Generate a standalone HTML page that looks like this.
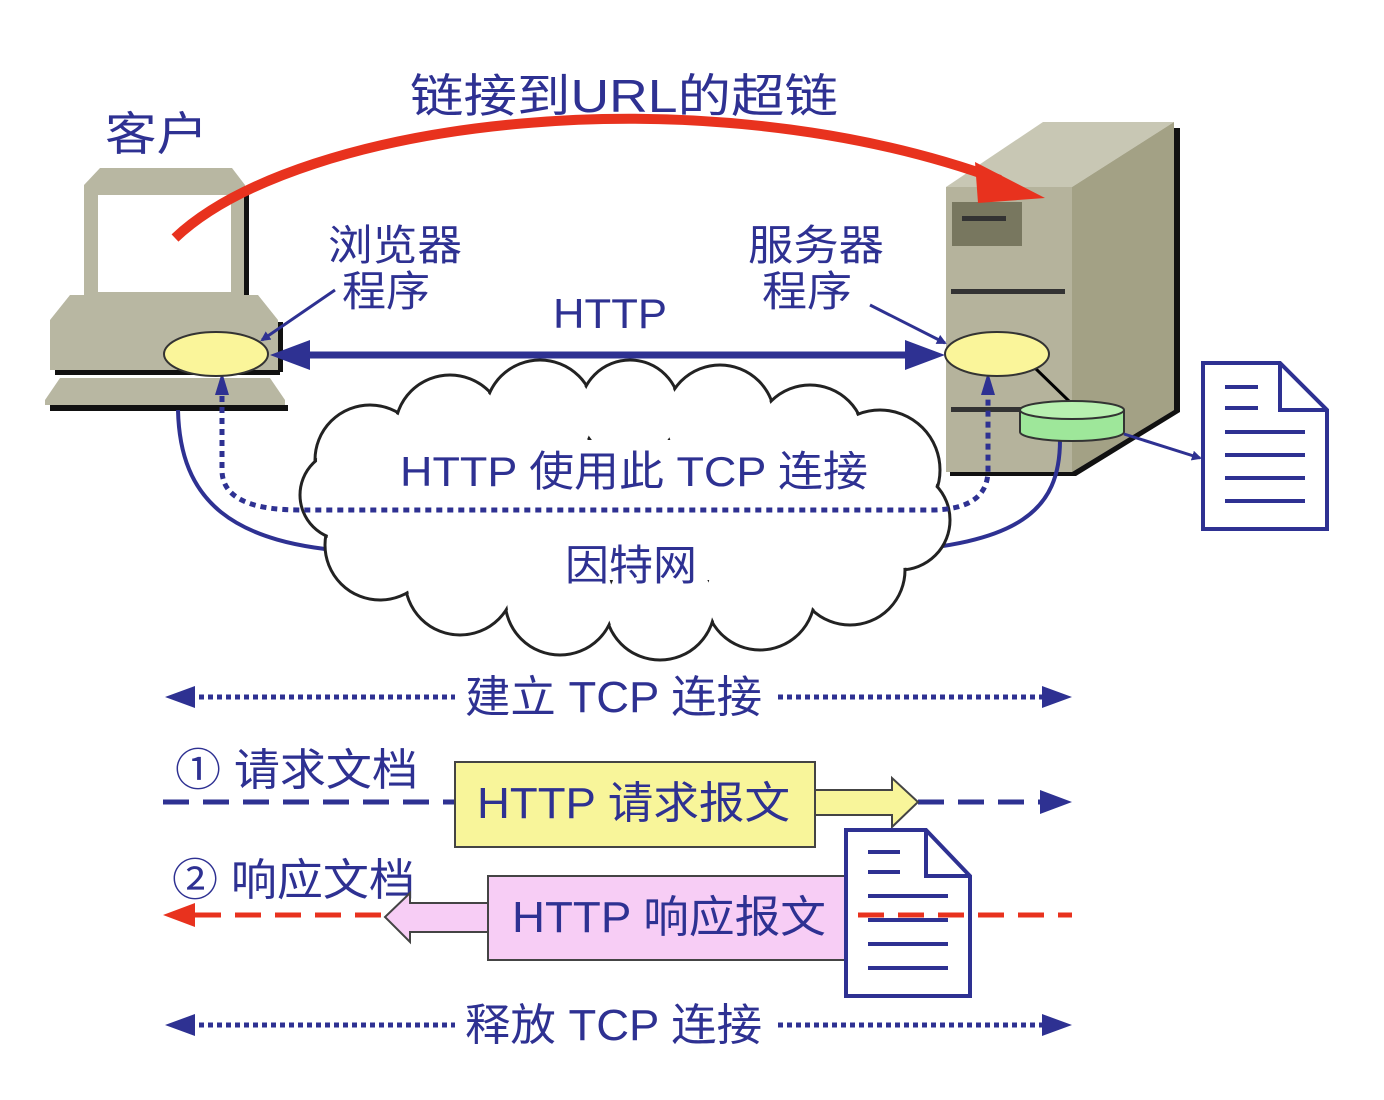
<!DOCTYPE html>
<html><head><meta charset="utf-8"><style>
html,body{margin:0;padding:0;background:#fff;width:1384px;height:1100px;overflow:hidden}
svg{display:block}
text{font-family:"Liberation Sans","Noto Sans CJK SC",sans-serif;fill:#2e3192}
</style></head><body>
<svg width="1384" height="1100" viewBox="0 0 1384 1100">
<defs>
<marker id="bh" markerWidth="10" markerHeight="10" refX="8" refY="5" orient="auto" markerUnits="userSpaceOnUse"><path d="M0,0 L10,5 L0,10z" fill="#2e3192"/></marker>
</defs>
<!-- computer -->
<polygon points="84,305 84,185 100,168 232,168 245,185 245,305" fill="#b8b7a2"/>
<rect x="244" y="188" width="5" height="115" fill="#111"/>
<rect x="98" y="195" width="133" height="97" fill="#fff"/>
<polygon points="50,320 70,295 258,295 278,320 278,370 50,370" fill="#b8b7a2"/>
<rect x="55" y="370" width="225" height="5" fill="#111"/>
<rect x="278" y="322" width="5" height="50" fill="#111"/>
<polygon points="45,400 60,378 270,378 285,400 285,405 45,405" fill="#b8b7a2"/>
<rect x="50" y="405" width="238" height="6" fill="#111"/>
<!-- server -->
<polygon points="946,187 1043,122 1174,122 1072,187" fill="#c8c7b4"/>
<polygon points="1072,187 1174,122 1174,410 1072,472" fill="#a3a185"/>
<rect x="946" y="187" width="126" height="285" fill="#b5b39c"/>
<polygon points="1174,128 1180,128 1180,412 1076,476 950,476 950,472 1072,472 1174,410" fill="#111"/>
<rect x="952" y="202" width="70" height="44" fill="#78775f"/>
<rect x="962" y="216" width="44" height="5" fill="#333"/>
<rect x="951" y="289" width="114" height="5" fill="#333"/>
<rect x="951" y="407" width="70" height="5" fill="#333"/>
<!-- red arc -->
<path d="M175,238 C300,120 700,70 1000,180" fill="none" stroke="#e8321e" stroke-width="10"/>
<polygon points="975,162 1045,198 978,203" fill="#e8321e"/>
<!-- connectors -->
<path d="M178,410 C180,500 230,545 360,552" fill="none" stroke="#2e3192" stroke-width="4"/>
<path d="M1060,440 C1060,510 1020,545 880,552" fill="none" stroke="#2e3192" stroke-width="4"/>
<line x1="1035" y1="368" x2="1070" y2="402" stroke="#000" stroke-width="3"/>
<!-- cloud -->
<g stroke="#222" stroke-width="3" fill="#fff">
<circle cx="370" cy="460" r="55"/><circle cx="450" cy="430" r="55"/><circle cx="540" cy="415" r="55"/><circle cx="630" cy="410" r="50"/><circle cx="720" cy="420" r="55"/><circle cx="810" cy="440" r="55"/><circle cx="880" cy="470" r="60"/><circle cx="900" cy="520" r="50"/><circle cx="850" cy="570" r="55"/><circle cx="760" cy="595" r="55"/><circle cx="660" cy="605" r="55"/><circle cx="560" cy="600" r="55"/><circle cx="460" cy="580" r="55"/><circle cx="380" cy="545" r="55"/><circle cx="345" cy="495" r="45"/>
</g>
<g fill="#fff">
<circle cx="370" cy="460" r="53"/><circle cx="450" cy="430" r="53"/><circle cx="540" cy="415" r="53"/><circle cx="630" cy="410" r="48"/><circle cx="720" cy="420" r="53"/><circle cx="810" cy="440" r="53"/><circle cx="880" cy="470" r="58"/><circle cx="900" cy="520" r="48"/><circle cx="850" cy="570" r="53"/><circle cx="760" cy="595" r="53"/><circle cx="660" cy="605" r="53"/><circle cx="560" cy="600" r="53"/><circle cx="460" cy="580" r="53"/><circle cx="380" cy="545" r="53"/><circle cx="345" cy="495" r="43"/>
<rect x="380" y="440" width="500" height="140"/>
</g>
<!-- dotted connection -->
<path d="M222,385 L222,470 Q222,510 300,510 L930,510 Q988,510 988,470 L988,385" fill="none" stroke="#2e3192" stroke-width="5" stroke-dasharray="6,5"/>
<polygon points="215,395 222,372 229,395" fill="#2e3192"/>
<polygon points="981,395 988,372 995,395" fill="#2e3192"/>
<!-- ellipses -->
<ellipse cx="216" cy="354" rx="52" ry="22" fill="#faf59a" stroke="#333" stroke-width="2"/>
<ellipse cx="997" cy="354" rx="52" ry="22" fill="#faf59a" stroke="#333" stroke-width="2"/>
<!-- cylinder -->
<path d="M1020,410 L1020,432 A52,9 0 0 0 1124,432 L1124,410" fill="#9ee79a" stroke="#333" stroke-width="2"/>
<ellipse cx="1072" cy="410" rx="52" ry="9" fill="#b8f0b0" stroke="#333" stroke-width="2"/>
<line x1="1124" y1="434" x2="1200" y2="458" stroke="#2e3192" stroke-width="3" marker-end="url(#bh)"/>
<!-- HTTP double arrow -->
<line x1="300" y1="355" x2="912" y2="355" stroke="#2e3192" stroke-width="7"/>
<polygon points="270,355 310,340 310,370" fill="#2e3192"/>
<polygon points="945,355 905,340 905,370" fill="#2e3192"/>
<line x1="335" y1="290" x2="262" y2="340" stroke="#2e3192" stroke-width="3" marker-end="url(#bh)"/>
<line x1="870" y1="305" x2="945" y2="343" stroke="#2e3192" stroke-width="3" marker-end="url(#bh)"/>
<!-- doc right -->
<path d="M1203,363 L1280,363 L1327,410 L1327,529 L1203,529z M1280,363 L1280,410 L1327,410" fill="#fff" stroke="#2e3192" stroke-width="4"/>
<g stroke="#2e3192" stroke-width="4"><line x1="1225" y1="387" x2="1258" y2="387"/><line x1="1225" y1="408" x2="1258" y2="408"/><line x1="1225" y1="432" x2="1305" y2="432"/><line x1="1225" y1="455" x2="1305" y2="455"/><line x1="1225" y1="478" x2="1305" y2="478"/><line x1="1225" y1="501" x2="1305" y2="501"/></g>
<!-- labels -->
<text x="105" y="150" font-size="46" textLength="103" lengthAdjust="spacingAndGlyphs">客户</text>
<text x="410" y="112" font-size="46" textLength="428" lengthAdjust="spacingAndGlyphs">链接到URL的超链</text>
<text x="328" y="260" font-size="42" textLength="134" lengthAdjust="spacingAndGlyphs">浏览器</text>
<text x="342" y="306" font-size="42" textLength="88" lengthAdjust="spacingAndGlyphs">程序</text>
<text x="748" y="260" font-size="42" textLength="136" lengthAdjust="spacingAndGlyphs">服务器</text>
<text x="762" y="306" font-size="42" textLength="90" lengthAdjust="spacingAndGlyphs">程序</text>
<text x="553" y="328" font-size="42" textLength="114" lengthAdjust="spacingAndGlyphs">HTTP</text>
<text x="400" y="486" font-size="42" textLength="468" lengthAdjust="spacingAndGlyphs">HTTP 使用此 TCP 连接</text>
<text x="565" y="580" font-size="42" textLength="132" lengthAdjust="spacingAndGlyphs">因特网</text>
<!-- bottom -->
<g stroke="#2e3192" stroke-width="5" stroke-dasharray="5,4">
<line x1="190" y1="697" x2="455" y2="697"/><line x1="778" y1="697" x2="1045" y2="697"/>
<line x1="190" y1="1025" x2="455" y2="1025"/><line x1="778" y1="1025" x2="1045" y2="1025"/>
</g>
<polygon points="165,697 195,686 195,708" fill="#2e3192"/><polygon points="1072,697 1042,686 1042,708" fill="#2e3192"/>
<polygon points="165,1025 195,1014 195,1036" fill="#2e3192"/><polygon points="1072,1025 1042,1014 1042,1036" fill="#2e3192"/>
<text x="465" y="712" font-size="44" textLength="297" lengthAdjust="spacingAndGlyphs">建立 TCP 连接</text>
<text x="465" y="1040" font-size="44" textLength="297" lengthAdjust="spacingAndGlyphs">释放 TCP 连接</text>
<text x="175" y="785" font-size="44" textLength="243" lengthAdjust="spacingAndGlyphs">① 请求文档</text>
<text x="172" y="895" font-size="44" textLength="243" lengthAdjust="spacingAndGlyphs">② 响应文档</text>
<line x1="163" y1="802" x2="455" y2="802" stroke="#2e3192" stroke-width="5" stroke-dasharray="26,14"/>
<line x1="918" y1="802" x2="1045" y2="802" stroke="#2e3192" stroke-width="5" stroke-dasharray="26,14"/>
<polygon points="1072,802 1040,790 1040,814" fill="#2e3192"/>
<rect x="455" y="762" width="360" height="85" fill="#f8f59a" stroke="#444" stroke-width="2"/>
<polygon points="815,790 892,790 892,778 918,802 892,827 892,815 815,815" fill="#f8f59a" stroke="#444" stroke-width="2"/>
<text x="477" y="818" font-size="44" textLength="313" lengthAdjust="spacingAndGlyphs">HTTP 请求报文</text>
<line x1="195" y1="915" x2="385" y2="915" stroke="#e8321e" stroke-width="5" stroke-dasharray="26,14"/>
<polygon points="163,915 195,903 195,927" fill="#e8321e"/>
<polygon points="488,903 410,903 410,893 385,917 410,942 410,932 488,932" fill="#f7cdf5" stroke="#444" stroke-width="2"/>
<rect x="488" y="876" width="360" height="84" fill="#f7cdf5" stroke="#444" stroke-width="2"/>
<text x="512" y="932" font-size="44" textLength="314" lengthAdjust="spacingAndGlyphs">HTTP 响应报文</text>
<path d="M846,830 L926,830 L970,876 L970,996 L846,996z M926,830 L926,876 L970,876" fill="#fff" stroke="#2e3192" stroke-width="4"/>
<g stroke="#2e3192" stroke-width="4"><line x1="868" y1="852" x2="900" y2="852"/><line x1="868" y1="872" x2="900" y2="872"/><line x1="868" y1="896" x2="948" y2="896"/><line x1="868" y1="920" x2="948" y2="920"/><line x1="868" y1="944" x2="948" y2="944"/><line x1="868" y1="968" x2="948" y2="968"/></g>
<line x1="858" y1="915" x2="1072" y2="915" stroke="#e8321e" stroke-width="5" stroke-dasharray="26,14"/>
</svg>
</body></html>
